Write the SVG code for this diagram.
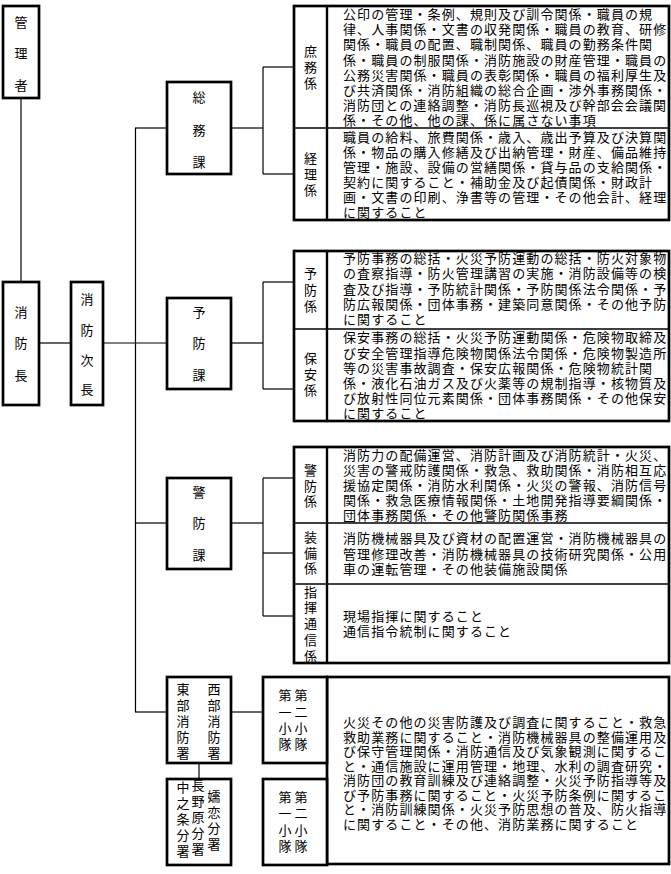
<svg xmlns="http://www.w3.org/2000/svg" width="671" height="874" viewBox="0 0 671 874">
<style>
text{font-family:"Noto Sans CJK JP","Noto Sans CJK SC",sans-serif;font-size:13px;fill:#000}
.t{letter-spacing:1.1px}
.c{text-anchor:middle}
.box{fill:#fff;stroke:#000;stroke-width:2.7}
.col{stroke:#000;stroke-width:2.4}
.div{stroke:#000;stroke-width:1.5}
#connectors line{stroke:#000;stroke-width:1.2}
</style>
<rect width="671" height="874" fill="#fff"/>
<g id="connectors">
<line x1="21" y1="98" x2="21" y2="282"/>
<line x1="39" y1="343" x2="71" y2="343"/>
<line x1="103" y1="343" x2="167" y2="343"/>
<line x1="135.5" y1="128" x2="135.5" y2="712"/>
<line x1="135" y1="128" x2="167" y2="128"/>
<line x1="231" y1="128" x2="263" y2="128"/>
<line x1="263" y1="67" x2="263" y2="174"/>
<line x1="263" y1="67" x2="294" y2="67"/>
<line x1="263" y1="174" x2="294" y2="174"/>
<line x1="231" y1="343" x2="263" y2="343"/>
<line x1="263" y1="282" x2="263" y2="389"/>
<line x1="263" y1="282" x2="294" y2="282"/>
<line x1="263" y1="389" x2="294" y2="389"/>
<line x1="135" y1="523" x2="167" y2="523"/>
<line x1="231" y1="523" x2="263" y2="523"/>
<line x1="263" y1="478" x2="263" y2="616"/>
<line x1="263" y1="478" x2="294" y2="478"/>
<line x1="263" y1="553" x2="294" y2="553"/>
<line x1="263" y1="616" x2="294" y2="616"/>
<line x1="135" y1="712" x2="167" y2="712"/>
<line x1="231" y1="712" x2="263" y2="712"/>
<line x1="199" y1="763" x2="199" y2="779"/>
</g>
<g id="kanrisha"><rect class="box" x="3" y="6" width="36" height="92"/>
<text class="c"><tspan x="21" y="27">管</tspan><tspan x="21" y="58">理</tspan><tspan x="21" y="90">者</tspan></text></g>
<g id="shouboucho"><rect class="box" x="3" y="282" width="36" height="123"/>
<text class="c"><tspan x="21" y="317">消</tspan><tspan x="21" y="348">防</tspan><tspan x="21" y="380">長</tspan></text></g>
<g id="jicho"><rect class="box" x="71" y="282" width="32" height="123"/>
<text class="c"><tspan x="87" y="304">消</tspan><tspan x="87" y="335">防</tspan><tspan x="87" y="365">次</tspan><tspan x="87" y="394">長</tspan></text></g>
<g id="somuka"><rect class="box" x="167" y="82" width="64" height="92"/>
<text class="c"><tspan x="199" y="102">総</tspan><tspan x="199" y="135">務</tspan><tspan x="199" y="167">課</tspan></text></g>
<g id="yoboka"><rect class="box" x="167" y="298" width="64" height="91"/>
<text class="c"><tspan x="199" y="317">予</tspan><tspan x="199" y="348">防</tspan><tspan x="199" y="380">課</tspan></text></g>
<g id="keiboka"><rect class="box" x="167" y="478" width="64" height="91"/>
<text class="c"><tspan x="199" y="497">警</tspan><tspan x="199" y="528">防</tspan><tspan x="199" y="560">課</tspan></text></g>
<g id="somu-detail"><rect class="box" x="294" y="6" width="375" height="214"/>
<line class="col" x1="327" y1="6" x2="327" y2="220"/><line class="div" x1="294" y1="128" x2="669" y2="128"/>
<text class="c"><tspan x="310.5" y="56">庶</tspan><tspan x="310.5" y="72">務</tspan><tspan x="310.5" y="88">係</tspan></text>
<text class="c"><tspan x="310.5" y="163">経</tspan><tspan x="310.5" y="179">理</tspan><tspan x="310.5" y="195">係</tspan></text>
<text class="t"><tspan x="343" y="19">公印の管理・条例、規則及び訓令関係・職員の規</tspan><tspan x="343" y="34">律、人事関係・文書の収発関係・職員の教育、研修</tspan><tspan x="343" y="49">関係・職員の配置、職制関係、職員の勤務条件関</tspan><tspan x="343" y="64.5">係・職員の制服関係・消防施設の財産管理・職員の</tspan><tspan x="343" y="80">公務災害関係・職員の表彰関係・職員の福利厚生及</tspan><tspan x="343" y="95">び共済関係・消防組織の総合企画・渉外事務関係・</tspan><tspan x="343" y="110">消防団との連絡調整・消防長巡視及び幹部会会議関</tspan><tspan x="343" y="125">係・その他、他の課、係に属さない事項</tspan></text>
<text class="t"><tspan x="343" y="142">職員の給料、旅費関係・歳入、歳出予算及び決算関</tspan><tspan x="343" y="157">係・物品の購入修繕及び出納管理・財産、備品維持</tspan><tspan x="343" y="172">管理・施設、設備の営繕関係・貸与品の支給関係・</tspan><tspan x="343" y="187">契約に関すること・補助金及び起債関係・財政計</tspan><tspan x="343" y="202">画・文書の印刷、浄書等の管理・その他会計、経理</tspan><tspan x="343" y="217">に関すること</tspan></text></g>
<g id="yobo-detail"><rect class="box" x="294" y="251" width="375" height="170"/>
<line class="col" x1="327" y1="251" x2="327" y2="421"/><line class="div" x1="294" y1="329" x2="669" y2="329"/>
<text class="c"><tspan x="310.5" y="278">予</tspan><tspan x="310.5" y="295">防</tspan><tspan x="310.5" y="311">係</tspan></text>
<text class="c"><tspan x="310.5" y="363">保</tspan><tspan x="310.5" y="379">安</tspan><tspan x="310.5" y="395">係</tspan></text>
<text class="t"><tspan x="343" y="263">予防事務の総括・火災予防運動の総括・防火対象物</tspan><tspan x="343" y="278">の査察指導・防火管理講習の実施・消防設備等の検</tspan><tspan x="343" y="294">査及び指導・予防統計関係・予防関係法令関係・予</tspan><tspan x="343" y="309">防広報関係・団体事務・建築同意関係・その他予防</tspan><tspan x="343" y="324">に関すること</tspan></text>
<text class="t"><tspan x="343" y="342">保安事務の総括・火災予防運動関係・危険物取締及</tspan><tspan x="343" y="357.5">び安全管理指導危険物関係法令関係・危険物製造所</tspan><tspan x="343" y="373">等の災害事故調査・保安広報関係・危険物統計関</tspan><tspan x="343" y="388">係・液化石油ガス及び火薬等の規制指導・核物質及</tspan><tspan x="343" y="403">び放射性同位元素関係・団体事務関係・その他保安</tspan><tspan x="343" y="418">に関すること</tspan></text></g>
<g id="keibo-detail"><rect class="box" x="294" y="447" width="375" height="216"/>
<line class="col" x1="327" y1="447" x2="327" y2="663"/><line class="div" x1="294" y1="523" x2="669" y2="523"/><line class="div" x1="294" y1="584" x2="669" y2="584"/>
<text class="c"><tspan x="310.5" y="475">警</tspan><tspan x="310.5" y="491">防</tspan><tspan x="310.5" y="506">係</tspan></text>
<text class="c"><tspan x="310.5" y="542">装</tspan><tspan x="310.5" y="558">備</tspan><tspan x="310.5" y="573">係</tspan></text>
<text class="c"><tspan x="310.5" y="597">指</tspan><tspan x="310.5" y="612">揮</tspan><tspan x="310.5" y="628">通</tspan><tspan x="310.5" y="645">信</tspan><tspan x="310.5" y="661">係</tspan></text>
<text class="t"><tspan x="343" y="460">消防力の配備運営、消防計画及び消防統計・火災、</tspan><tspan x="343" y="475">災害の警戒防護関係・救急、救助関係・消防相互応</tspan><tspan x="343" y="490">援協定関係・消防水利関係・火災の警報、消防信号</tspan><tspan x="343" y="505">関係・救急医療情報関係・土地開発指導要綱関係・</tspan><tspan x="343" y="520">団体事務関係・その他警防関係事務</tspan></text>
<text class="t"><tspan x="343" y="543">消防機械器具及び資材の配置運営・消防機械器具の</tspan><tspan x="343" y="559">管理修理改善・消防機械器具の技術研究関係・公用</tspan><tspan x="343" y="574">車の運転管理・その他装備施設関係</tspan></text>
<text class="t"><tspan x="343" y="621">現場指揮に関すること</tspan><tspan x="343" y="636">通信指令統制に関すること</tspan></text></g>
<g id="shobosho"><rect class="box" x="167" y="677" width="64" height="86"/>
<text class="c"><tspan x="183" y="694">東</tspan><tspan x="183" y="710">部</tspan><tspan x="183" y="726">消</tspan><tspan x="183" y="742">防</tspan><tspan x="183" y="758">署</tspan></text>
<text class="c"><tspan x="214" y="694">西</tspan><tspan x="214" y="710">部</tspan><tspan x="214" y="726">消</tspan><tspan x="214" y="742">防</tspan><tspan x="214" y="758">署</tspan></text></g>
<g id="bunsho"><rect class="box" x="167" y="779" width="64" height="86"/>
<text class="c"><tspan x="183" y="792">中</tspan><tspan x="183" y="808">之</tspan><tspan x="183" y="824">条</tspan><tspan x="183" y="840">分</tspan><tspan x="183" y="856">署</tspan></text>
<text class="c"><tspan x="198" y="790">長</tspan><tspan x="198" y="806">野</tspan><tspan x="198" y="822">原</tspan><tspan x="198" y="838">分</tspan><tspan x="198" y="854">署</tspan></text>
<text class="c"><tspan x="214" y="801">嬬</tspan><tspan x="214" y="817">恋</tspan><tspan x="214" y="833">分</tspan><tspan x="214" y="849">署</tspan></text></g>
<g id="shotai-detail"><rect class="box" x="327" y="677" width="342" height="187"/>
<text class="t"><tspan x="343" y="727">火災その他の災害防護及び調査に関すること・救急</tspan><tspan x="343" y="741.5">救助業務に関すること・消防機械器具の整備運用及</tspan><tspan x="343" y="756">び保守管理関係・消防通信及び気象観測に関するこ</tspan><tspan x="343" y="770.5">と・通信施設に運用管理・地理、水利の調査研究・</tspan><tspan x="343" y="785">消防団の教育訓練及び連絡調整・火災予防指導等及</tspan><tspan x="343" y="799.5">び予防事務に関すること・火災予防条例に関するこ</tspan><tspan x="343" y="814">と・消防訓練関係・火災予防思想の普及、防火指導</tspan><tspan x="343" y="828.5">に関すること・その他、消防業務に関すること</tspan></text></g>
<g id="shotai1"><rect class="box" x="263" y="677" width="64" height="86"/>
<text class="c"><tspan x="285" y="700">第</tspan><tspan x="285" y="717">一</tspan><tspan x="285" y="733">小</tspan><tspan x="285" y="749">隊</tspan></text>
<text class="c"><tspan x="301" y="700">第</tspan><tspan x="301" y="717">二</tspan><tspan x="301" y="733">小</tspan><tspan x="301" y="749">隊</tspan></text></g>
<g id="shotai2"><rect class="box" x="263" y="779" width="64" height="86"/>
<text class="c"><tspan x="285" y="802">第</tspan><tspan x="285" y="818">一</tspan><tspan x="285" y="835">小</tspan><tspan x="285" y="851">隊</tspan></text>
<text class="c"><tspan x="301" y="802">第</tspan><tspan x="301" y="818">二</tspan><tspan x="301" y="835">小</tspan><tspan x="301" y="851">隊</tspan></text></g>
</svg>
